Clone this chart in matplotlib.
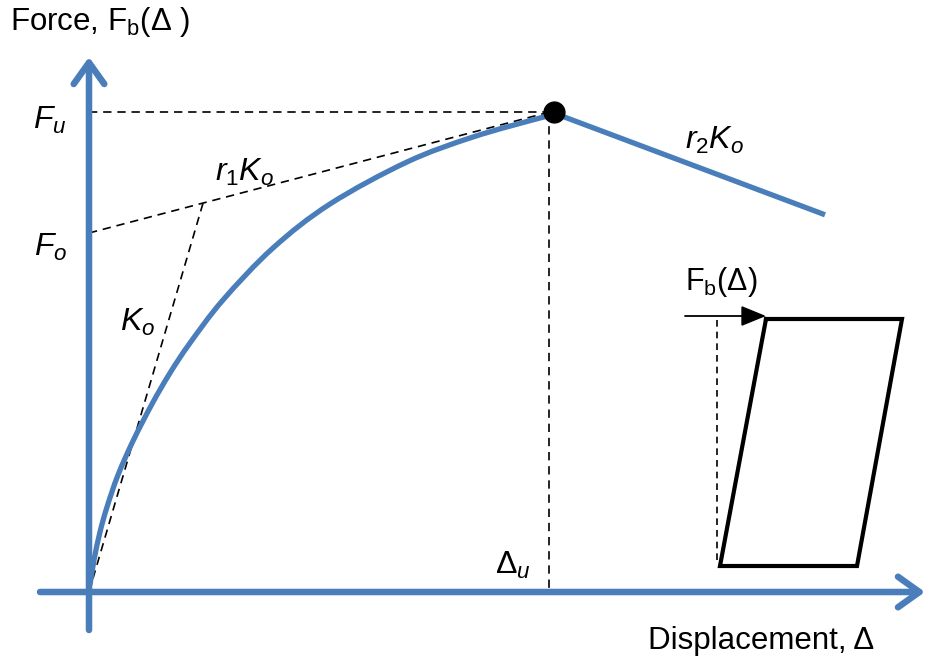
import matplotlib.pyplot as plt
from matplotlib.patches import FancyArrowPatch, PathPatch
from matplotlib.path import Path

plt.rcParams['font.family'] = ['Liberation Sans', 'DejaVu Sans']
plt.rcParams['mathtext.fontset'] = 'custom'
plt.rcParams['mathtext.rm'] = 'Liberation Sans'
plt.rcParams['mathtext.it'] = 'Liberation Sans:italic'
plt.rcParams['mathtext.default'] = 'it'

blue = "#4a7ebb"

# backbone curve (displacement, force)
disp = [1, 5, 11, 18, 29, 44, 63, 81, 101, 134, 184, 241, 318, 384, 451, 465]
force = [7, 32, 60, 85, 117, 151, 188, 219, 249, 292, 344, 388, 430, 455, 474, 477]

# model parameters
K0 = 3.41
r1 = 0.077
r2 = -0.11
F0 = 359
Fu = 480
du = 462
d_end = 736

# sketch of the deformed pier
pier_x = [677, 813, 768, 631, 677]
pier_y = [273, 273, 26, 26, 273]


def smooth_path(xs, ys):
    # Catmull-Rom spline through the points, as cubic Bezier segments
    pts = list(zip(xs, ys))
    pts = [pts[0]] + pts + [pts[-1]]
    verts = [pts[1]]
    codes = [Path.MOVETO]
    for i in range(1, len(pts) - 2):
        p0, p1, p2, p3 = pts[i - 1], pts[i], pts[i + 1], pts[i + 2]
        c1 = (p1[0] + (p2[0] - p0[0]) / 6, p1[1] + (p2[1] - p0[1]) / 6)
        c2 = (p2[0] - (p3[0] - p1[0]) / 6, p2[1] - (p3[1] - p1[1]) / 6)
        verts += [c1, c2, p2]
        codes += [Path.CURVE4] * 3
    return Path(verts, codes)


fig = plt.figure(figsize=(9.27, 6.60), dpi=100)
ax = fig.add_axes([0, 0, 1, 1])
ax.set_xlim(-89, 838)
ax.set_ylim(-68, 592)
ax.axis("off")

# axes with open arrow heads
for start, end in [((0, -38), (0, 535)), ((-49, 0), (836, 0))]:
    ax.add_patch(FancyArrowPatch(start, end, arrowstyle="->,head_length=7,head_width=5",
                                 color=blue, lw=4.7, capstyle="round", joinstyle="round",
                                 mutation_scale=2.2, shrinkA=0, shrinkB=0, zorder=3))

# construction lines
dash = dict(color="black", lw=1.2, ls=(0, (5, 3.5)), zorder=2)
ax.plot([0, du], [Fu, Fu], **dash)
ax.plot([du - 2, du - 2], [Fu, 0], **dash)
ax.plot([0, du], [F0, F0 + r1 * K0 * du], **dash)
x_int = F0 / (K0 - r1 * K0)
ax.plot([0, x_int], [0, K0 * x_int], **dash)

# backbone and softening branch
ax.add_patch(PathPatch(smooth_path(disp, force), fill=False, edgecolor=blue, lw=3.8,
                       capstyle="butt", zorder=4))
ax.plot([du, d_end], [Fu, Fu + r2 * K0 * (d_end - du)], color=blue, lw=3.8,
        solid_capstyle="butt", zorder=4)
ax.plot([du + 3], [Fu], "o", color="black", ms=15, zorder=5)

# pier sketch
ax.plot(pier_x, pier_y, color="black", lw=3, solid_joinstyle="miter", zorder=3)
ax.plot([628, 628], [272, 32], color="black", lw=1.2, ls=(0, (4, 3)), zorder=2)
ax.annotate("", xy=(pier_x[0], 276), xytext=(596, 276),
            arrowprops=dict(arrowstyle="-|>,head_length=1.1,head_width=0.45",
                            color="black", lw=1.3, shrinkA=0, shrinkB=0,
                            mutation_scale=14))

fs = 22.5
fi = 23
ax.text(-79, 570, r"Force, $\mathrm{F_b}$(Δ )", fontsize=fs, ha="left", va="center")
ax.text(672, -49, "Displacement, Δ", fontsize=fs, ha="center", va="center")
ax.text(-39, 472, r"$F_u$", fontsize=fi, ha="center", va="center")
ax.text(-38, 345, r"$F_o$", fontsize=fi, ha="center", va="center")
ax.text(49, 270, r"$K_o$", fontsize=fi, ha="center", va="center")
ax.text(156, 420, r"$r_1K_o$", fontsize=fi, ha="center", va="center")
ax.text(626, 452, r"$r_2K_o$", fontsize=fi, ha="center", va="center")
ax.text(424, 27, r"$\mathrm{\Delta}_u$", fontsize=fi, ha="center", va="center")
ax.text(632, 310, r"$\mathrm{F_b}$(Δ)", fontsize=22, ha="center", va="center")

fig.savefig("out.png", dpi=100)
